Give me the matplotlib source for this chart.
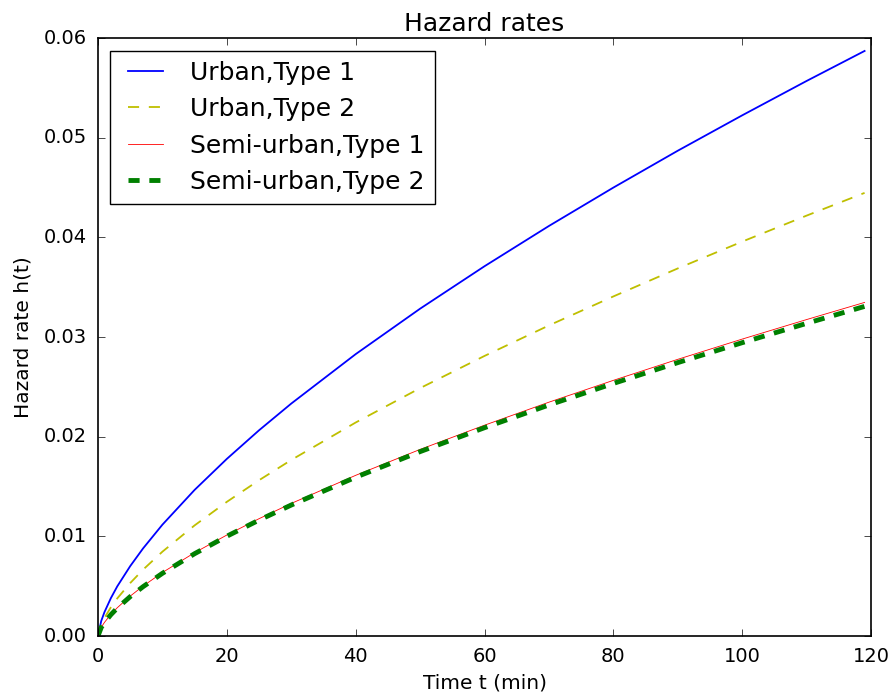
import matplotlib
matplotlib.use('Agg')
import matplotlib.pyplot as plt

# hazard rate samples h(t) for each region / vehicle type
t = [0, 0.5, 1, 2, 3, 5, 7, 10, 15, 20, 25, 30, 40, 50, 60, 70, 80, 90, 100, 110, 119]
urban_1 = [0, 0.00150, 0.00239, 0.00380, 0.00499, 0.00701, 0.00879, 0.01117, 0.01466, 0.01777,
           0.02064, 0.02332, 0.02828, 0.03284, 0.03710, 0.04114, 0.04499, 0.04869, 0.05224,
           0.05569, 0.0587]
urban_2 = [0, 0.00114, 0.00181, 0.00288, 0.00378, 0.00531, 0.00666, 0.00846, 0.01110, 0.01346,
           0.01563, 0.01766, 0.02142, 0.02487, 0.02810, 0.03116, 0.03407, 0.03688, 0.03957,
           0.04218, 0.04446]
semi_1 = [0, 0.00086, 0.00136, 0.00217, 0.00284, 0.00400, 0.00501, 0.00637, 0.00836, 0.01013,
          0.01177, 0.01330, 0.01612, 0.01872, 0.02115, 0.02346, 0.02565, 0.02776, 0.02979,
          0.03175, 0.03347]
semi_2 = [0, 0.00085, 0.00135, 0.00214, 0.00281, 0.00395, 0.00495, 0.00629, 0.00826, 0.01001,
          0.01163, 0.01314, 0.01593, 0.01850, 0.02090, 0.02318, 0.02534, 0.02743, 0.02943,
          0.03137, 0.03307]

plt.style.use('classic')
plt.rcParams['figure.facecolor'] = 'white'
plt.rcParams['savefig.facecolor'] = 'white'
plt.rcParams['axes.linewidth'] = 1.2
plt.rcParams['xtick.major.size'] = 5
plt.rcParams['ytick.major.size'] = 5

fig = plt.figure(figsize=(8.94, 6.96), dpi=100)
ax = fig.add_axes([0.1096, 0.0862, 0.8647, 0.8592])

dash = (8, 7)
ax.plot(t, urban_1, 'b-', lw=1.3, label='Urban,Type 1')
ax.plot(t, urban_2, 'y--', lw=1.3, dashes=dash, label='Urban,Type 2')
ax.plot(t, semi_1, 'r-', lw=0.6, label='Semi-urban,Type 1')
ax.plot(t, semi_2, 'g--', lw=3.5, dashes=dash, label='Semi-urban,Type 2')

ax.set_xlim(0, 120)
ax.set_ylim(0, 0.06)
ax.tick_params(labelsize=14, pad=8)
ax.set_xlabel('Time t (min)', fontsize=14.5, labelpad=5.5)
ax.set_ylabel('Hazard rate h(t)', fontsize=14.5, labelpad=8)
ax.set_title('Hazard rates', fontsize=18)
ax.legend(loc='upper left', fontsize=18)

fig.savefig('out.png', dpi=100)
